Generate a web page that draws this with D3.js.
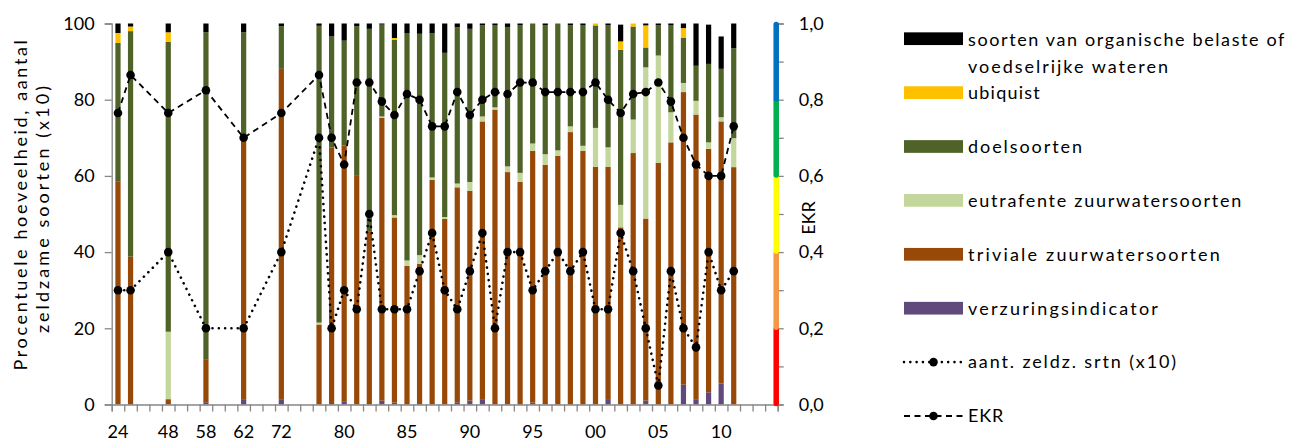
<!DOCTYPE html>
<html><head><meta charset="utf-8">
<script src="https://cdn.jsdelivr.net/npm/d3@7/dist/d3.min.js"></script>
<style>
html,body{margin:0;padding:0;background:#fff;overflow:hidden}
svg{display:block}
text{font-family:Lato,"Open Sans","Liberation Sans",sans-serif;fill:#000}
</style></head><body>
<svg id="c" width="1290" height="443"></svg>
<script>
const N = null;
// category slots on the x axis (blank = empty slot)
const xLabels = ["24","","","","48","","","58","","","62","","","72","","","","","80","","","","","85","","","","","90","","","","","95","","","","","00","","","","","05","","","","","10","","","",""];

const verzuring = [0,0,N,N,0,N,N,0.6,N,N,1.4,N,N,1.4,N,N, 0,0.4,0.7,0,0,1.0,0.5,0,0,0.4, 0,0.6,1.0,1.4,0,0,0,0.5,0,0, 0,0,0,1.2,0,0,1.0,0,0,5.2, 1.4,3.2,5.5,0, N,N,N];
const triviale = [58.6,38.8,N,N,1.4,N,N,11.3,N,N,68.9,N,N,86.7,N,N, 21.0,67.1,67.3,60.2,45.5,74.2,48.6,36.4,36.9,58.6, 48.7,56.4,55.1,72.9,77.4,61.0,58.4,66.1,62.9,65.3, 71.5,66.6,62.4,61.2,46.5,66.0,47.8,63.4,68.8,76.8, 74.7,63.9,68.8,62.3, N,N,N];
const eutrafente = [0,0,N,N,17.7,N,N,0,N,N,0,N,N,0,N,N, 0.5,0,0,0,0,0.4,0.6,1.4,2.3,0.6, 0.5,1.0,2.3,1.3,0.6,1.5,2.4,1.9,2.8,1.4, 1.5,1.3,10.2,5.1,5.9,8.8,39.7,28.2,7.9,2.4, 3.6,1.7,1.1,7.6, N,N,N];
const doelsoorten = [36.3,59.2,N,N,76.1,N,N,85.8,N,N,27.4,N,N,11.2,N,N, 77.9,29.1,27.5,39.1,53.1,24.1,46.0,59.7,58.1,37.9, 43.1,41.0,40.2,23.9,21.5,36.6,38.8,31.5,33.8,33.3, 26.5,31.6,26.9,32.0,40.7,24.4,5.2,7.9,22.8,11.8, 9.2,20.6,12.7,23.6, N,N,N];
const ubiquist = [2.6,1.2,N,N,2.5,N,N,0,N,N,0,N,N,0,N,N, 0,0,0,0,0,0,0.5,0,0,0, 0,0,0,0,0,0,0,0,0,0, 0,0,0.5,0,2.2,0.8,5.8,0,0,2.6, 0,0,0,0, N,N,N];
const organisch = [2.5,0.8,N,N,2.3,N,N,2.3,N,N,2.3,N,N,0.7,N,N, 0.6,3.4,4.5,0.7,1.4,0.3,3.8,2.5,2.7,2.5, 7.7,1.0,1.4,0.5,0.5,0.9,0.4,0,0.5,0, 0.5,0.5,0,0.5,4.4,0,0.5,0.5,0.5,1.2, 11.1,10.3,8.5,6.5, N,N,N];
const ekr = [0.765,0.865,N,N,0.765,N,N,0.825,N,N,0.70,N,N,0.765,N,N, 0.865,0.70,0.63,0.845,0.845,0.795,0.76,0.815,0.80,0.73, 0.73,0.82,0.76,0.80,0.82,0.815,0.845,0.845,0.82,0.82, 0.82,0.82,0.845,0.80,0.765,0.815,0.82,0.845,0.795,0.70, 0.63,0.60,0.60,0.73, N,N,N];
const zeldzaamX10 = [30,30,N,N,40,N,N,20,N,N,20,N,N,40,N,N, 70,20,30,25,50,25,25,25,35,45, 30,25,35,45,20,40,40,30,35,40, 35,40,25,25,45,35,20,5,35,20, 15,40,30,35, N,N,N];

const leftTicks = [0,20,40,60,80,100];
const rightLabelTicks = [0,0.2,0.4,0.6,0.8,1.0];
const rightMinorTicks = [0,0.1,0.2,0.3,0.4,0.5,0.6,0.7,0.8,0.9,1.0];
const ekrBands = [[0,0.2,"#FF0000"],[0.2,0.4,"#F79646"],[0.4,0.6,"#FFFF00"],[0.6,0.8,"#00B050"],[0.8,1.0,"#0070C0"]];

const seriesKeys = ["verzuring","triviale","eutrafente","doelsoorten","ubiquist","organisch"];
const seriesData = {verzuring, triviale, eutrafente, doelsoorten, ubiquist, organisch};
const colors = {verzuring:"#604A7B", triviale:"#984807", eutrafente:"#C3D69B", doelsoorten:"#4F6228", ubiquist:"#FFC000", organisch:"#000000"};
const legendRects = [
  {key:"organisch", label:["soorten van organische belaste of","voedselrijke wateren"], w:[318,202]},
  {key:"ubiquist", label:["ubiquist"], w:[73]},
  {key:"doelsoorten", label:["doelsoorten"], w:[116]},
  {key:"eutrafente", label:["eutrafente zuurwatersoorten"], w:[275]},
  {key:"triviale", label:["triviale zuurwatersoorten"], w:[254]},
  {key:"verzuring", label:["verzuringsindicator"], w:[192]}
];
const legendLines = [
  {key:"rare", label:"aant. zeldz. srtn (x10)", w:210, dash:"0.01,6.3", width:2.6},
  {key:"ekr", label:"EKR", w:36, dash:"6,4.5", width:1.8}
];

const svg = d3.select("#c");
const P = {left:111.7, right:777.7, top:23.5, bottom:404.5};
const axisColor = "#868686";
const FS = 18;

const x = d3.scaleBand().domain(d3.range(xLabels.length)).range([P.left, P.right]);
const xEdge = d3.scaleLinear().domain([0, xLabels.length]).range([P.left, P.right]);
const y = d3.scaleLinear().domain([0,100]).range([P.bottom, P.top]);
const y2 = d3.scaleLinear().domain([0,1]).range([P.bottom, P.top]);
const barW = x.bandwidth()*0.415;

function fit(sel, target){
  sel.attr("letter-spacing",0);
  const w = sel.node().getComputedTextLength();
  const n = sel.text().length;
  sel.attr("letter-spacing", ((target - w)/n).toFixed(3));
}

// bars
const rows = d3.range(xLabels.length).filter(i => triviale[i] !== null).map(i => {
  const r = {i};
  seriesKeys.forEach(k => r[k] = seriesData[k][i] || 0);
  return r;
});
const stacked = d3.stack().keys(seriesKeys)(rows);
svg.append("g").selectAll("g").data(stacked).join("g")
  .attr("fill", d => colors[d.key])
  .selectAll("rect").data(d => d.filter(s => s[1] > s[0])).join("rect")
  .attr("x", d => x(d.data.i) + (x.bandwidth()-barW)/2)
  .attr("width", barW)
  .attr("y", d => y(d[1]))
  .attr("height", d => y(d[0]) - y(d[1]));

// left axis
const gl = svg.append("g").attr("transform",`translate(${P.left},0)`)
  .call(d3.axisLeft(y).tickValues(leftTicks).tickSize(7).tickPadding(10).tickFormat(d3.format("d")));
gl.select(".domain").attr("stroke",axisColor).attr("stroke-width",1.3);
gl.selectAll(".tick line").attr("stroke",axisColor).attr("stroke-width",1.3);
gl.selectAll(".tick text").attr("font-size",FS).attr("font-family",null).attr("fill","#000");

// bottom axis: ticks at slot edges + labels
const gbt = svg.append("g").attr("transform",`translate(0,${P.bottom})`)
  .call(d3.axisBottom(xEdge).tickValues(d3.range(xLabels.length+1)).tickSize(7).tickFormat(""));
gbt.select(".domain").attr("stroke",axisColor).attr("stroke-width",1.3);
gbt.selectAll(".tick line").attr("stroke",axisColor).attr("stroke-width",1.3);
const gbl = svg.append("g").attr("transform",`translate(0,${P.bottom})`)
  .call(d3.axisBottom(x).tickSize(0).tickPadding(21).tickFormat(i => xLabels[i]));
gbl.select(".domain").remove();
gbl.selectAll(".tick text").attr("font-size",FS).attr("font-family",null).attr("fill","#000");

// right axis
const grm = svg.append("g").attr("transform",`translate(${P.right},0)`)
  .call(d3.axisRight(y2).tickValues(rightMinorTicks).tickSize(6).tickFormat(""));
grm.select(".domain").attr("stroke",axisColor).attr("stroke-width",1.3);
grm.selectAll(".tick line").attr("stroke",axisColor).attr("stroke-width",1.3);
const grl = svg.append("g").attr("transform",`translate(${P.right},0)`)
  .call(d3.axisRight(y2).tickValues(rightLabelTicks).tickSize(0).tickPadding(21).tickFormat(d => d3.format(".1f")(d).replace(".",",")));
grl.select(".domain").remove();
grl.selectAll(".tick text").attr("font-size",FS).attr("font-family",null).attr("fill","#000");

// EKR colour bands on right axis
svg.append("g").selectAll("line").data(ekrBands).join("line")
  .attr("x1",P.right-1.5).attr("x2",P.right-1.5)
  .attr("y1",d => y2(d[0])-1).attr("y2",d => y2(d[1])+1)
  .attr("stroke",d => d[2]).attr("stroke-width",5.5).attr("stroke-linecap","round");

// lines
const ekrPts = d3.range(xLabels.length).filter(i => ekr[i] !== null).map(i => [x(i)+x.bandwidth()/2, y2(ekr[i])]);
const rarePts = d3.range(xLabels.length).filter(i => zeldzaamX10[i] !== null).map(i => [x(i)+x.bandwidth()/2, y(zeldzaamX10[i])]);
const line = d3.line();
svg.append("path").attr("d",line(rarePts)).attr("fill","none").attr("stroke","#000")
  .attr("stroke-width",legendLines[0].width).attr("stroke-dasharray",legendLines[0].dash).attr("stroke-linecap","round");
svg.append("path").attr("d",line(ekrPts)).attr("fill","none").attr("stroke","#000")
  .attr("stroke-width",legendLines[1].width).attr("stroke-dasharray",legendLines[1].dash);
svg.append("g").selectAll("circle").data(rarePts.concat(ekrPts)).join("circle")
  .attr("cx",d=>d[0]).attr("cy",d=>d[1]).attr("r",4.3).attr("fill","#000");

// axis titles
const tl = svg.append("text").attr("transform","translate(27,204) rotate(-90)").attr("text-anchor","middle").attr("font-size",FS).text("Procentuele hoeveelheid, aantal");
fit(tl,333);
const tl2 = svg.append("text").attr("transform","translate(49,208) rotate(-90)").attr("text-anchor","middle").attr("font-size",FS).text("zeldzame soorten (x10)");
fit(tl2,250);
svg.append("text").attr("transform","translate(815,218) rotate(-90)").attr("text-anchor","middle").attr("font-size",FS).text("EKR");

// legend
const LX = 904, LW = 59, LH = 12.7, LY0 = 38.7, LDY = 53.9;
const lg = svg.append("g");
legendRects.forEach((it, k) => {
  const cy = LY0 + k*LDY;
  lg.append("rect").attr("x",LX).attr("y",cy-LH/2).attr("width",LW).attr("height",LH).attr("fill",colors[it.key]);
  it.label.forEach((t, j) => {
    const base = it.label.length > 1 ? cy + 7.5 + j*27 : cy + 6.3;
    const tx = lg.append("text").attr("x",LX+LW+5).attr("y",base).attr("font-size",FS).text(t);
    fit(tx, it.w[j]);
  });
});
legendLines.forEach((it, k) => {
  const cy = LY0 + (legendRects.length + k)*LDY;
  lg.append("line").attr("x1",LX).attr("x2",LX+LW).attr("y1",cy).attr("y2",cy)
    .attr("stroke","#000").attr("stroke-width",it.width).attr("stroke-dasharray",it.dash)
    .attr("stroke-linecap", k===0 ? "round" : "butt");
  lg.append("circle").attr("cx",LX+LW/2).attr("cy",cy).attr("r",4.3).attr("fill","#000");
  const tx = lg.append("text").attr("x",LX+LW+5).attr("y",cy+6.3).attr("font-size",FS).text(it.label);
  fit(tx, it.w);
});
</script>
</body></html>
